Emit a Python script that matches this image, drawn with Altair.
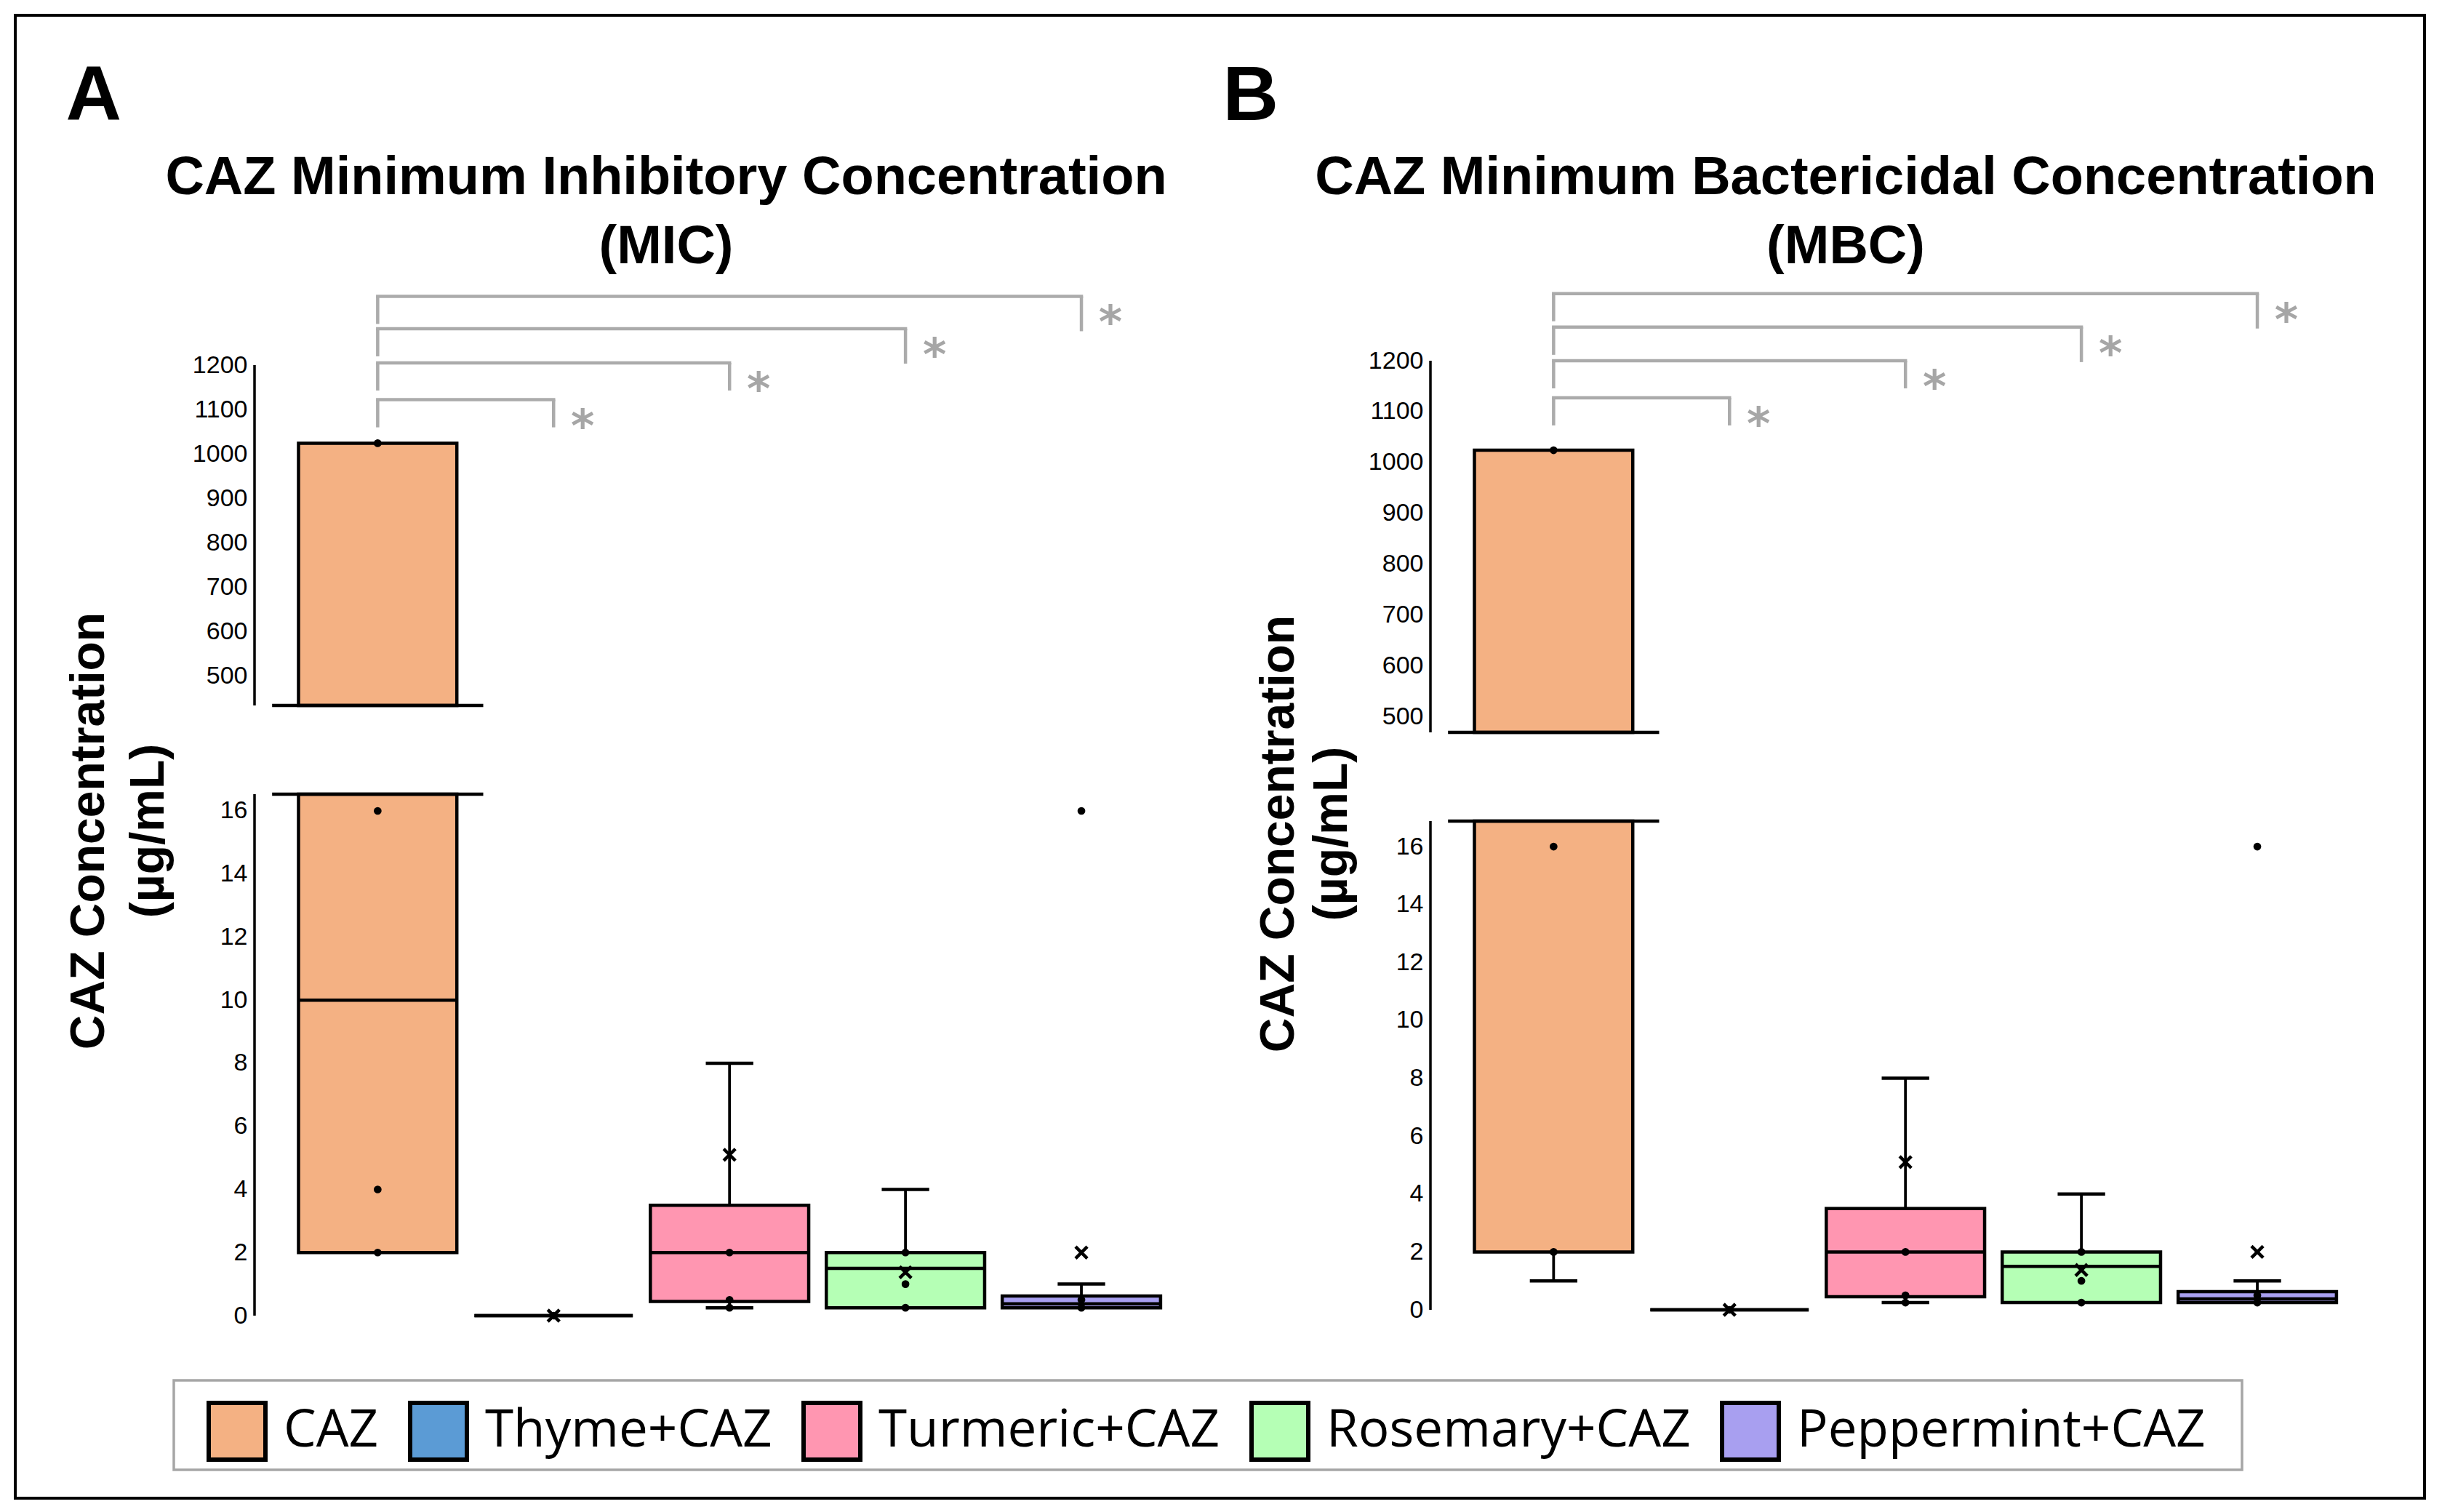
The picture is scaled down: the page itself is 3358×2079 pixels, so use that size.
import altair as alt
import pandas as pd

# ---------------- data ----------------
groups = ["CAZ", "Thyme+CAZ", "Turmeric+CAZ", "Rosemary+CAZ", "Peppermint+CAZ"]
colors = ["#F4B183", "#5B9BD5", "#FF96B1", "#B5FFB5", "#A89FF0"]

# Panel A - MIC (None = value lies inside the axis break, not drawn)
mic_low = [2, 0, 0.25, 0.25, 0.25]
mic_q1 = [2, 0, 0.45, 0.25, 0.25]
mic_median = [10, 0, 2, 1.5, 0.375]
mic_q3 = [1024, 0, 3.5, 2, 0.625]
mic_high = [1024, 0, 8, 4, 1]
mic_mean = [None, 0, 5.1, 1.375, 2]
mic_points = [[1024, 16, 4, 2], [0], [2, 0.5, 0.25], [2, 1, 0.25], [16, 0.5, 0.25]]

# Panel B - MBC
mbc_low = [1, 0, 0.25, 0.25, 0.25]
mbc_q1 = [2, 0, 0.45, 0.25, 0.25]
mbc_median = [None, 0, 2, 1.5, 0.375]
mbc_q3 = [1024, 0, 3.5, 2, 0.625]
mbc_high = [1024, 0, 8, 4, 1]
mbc_mean = [None, 0, 5.1, 1.375, 2]
mbc_points = [[1024, 16, 2], [0], [2, 0.5, 0.25], [2, 1, 0.25], [16, 0.5, 0.25]]

upper_ticks = [500, 600, 700, 800, 900, 1000, 1100, 1200]
lower_ticks = [0, 2, 4, 6, 8, 10, 12, 14, 16]

sig_reference = "CAZ"
sig_groups = ["Thyme+CAZ", "Turmeric+CAZ", "Rosemary+CAZ", "Peppermint+CAZ"]
sig_labels = ["*", "*", "*", "*"]

mic_title = ["CAZ Minimum Inhibitory Concentration", "(MIC)"]
mbc_title = ["CAZ Minimum Bactericidal Concentration", "(MBC)"]
y_title = ["CAZ Concentration", "(\u00b5g/mL)"]

# ---------------- layout / style ----------------
FONT = "Liberation Sans"
X_DOMAIN = [-0.70, 4.50]
PLOT_W = 1258
BOX_HALF = 0.45
CAP_HALF = 0.135
BREAK_HALF = 0.6
LW = 4.5
GRAY = "#ABABAB"
LEFT_DROP = 38
RIGHT_DROP = [38, 38, 48, 48]
TITLE_OFFSET = -373


def lin_domain(v1, p1, v2, p2, H):
    slope = (v1 - v2) / (p2 - p1)
    return [v1 - (H - p1) * slope, v1 + p1 * slope], slope


def clip(v, lo, hi):
    return min(max(v, lo), hi)


def tables(stats, points, lo, hi, upper):
    low, q1, med, q3, high, mean = stats
    T = {k: [] for k in ["box", "whisk", "cap", "med", "pt", "mean", "brk"]}
    for i, g in enumerate(groups):
        a, b = clip(q1[i], lo, hi), clip(q3[i], lo, hi)
        if b > a or (q1[i] == q3[i] and lo <= q1[i] <= hi):
            T["box"].append(dict(group=g, xa=i - BOX_HALF, xb=i + BOX_HALF, ya=a, yb=b))
        if upper and q1[i] < lo < q3[i]:
            T["brk"].append(dict(xa=i - BREAK_HALF, xb=i + BREAK_HALF, y=lo))
        if (not upper) and q1[i] < hi < q3[i]:
            T["brk"].append(dict(xa=i - BREAK_HALF, xb=i + BREAK_HALF, y=hi))
        for s, e in [(q3[i], high[i]), (low[i], q1[i])]:
            a, b = clip(s, lo, hi), clip(e, lo, hi)
            if b != a:
                T["whisk"].append(dict(i=i, ya=a, yb=b))
        if high[i] > q3[i] and lo <= high[i] <= hi:
            T["cap"].append(dict(xa=i - CAP_HALF, xb=i + CAP_HALF, y=high[i]))
        if low[i] < q1[i] and lo <= low[i] <= hi:
            T["cap"].append(dict(xa=i - CAP_HALF, xb=i + CAP_HALF, y=low[i]))
        if med[i] is not None and lo <= med[i] <= hi:
            T["med"].append(dict(xa=i - BOX_HALF, xb=i + BOX_HALF, y=med[i]))
        for p in points[i]:
            if lo <= p <= hi:
                T["pt"].append(dict(i=i, y=p))
        if mean[i] is not None and lo <= mean[i] <= hi:
            T["mean"].append(dict(i=i, y=mean[i]))
    return {k: pd.DataFrame(v) for k, v in T.items()}


legend = alt.Legend(
    title=None, orient="none", legendX=-66, legendY=1532, direction="horizontal",
    symbolType="square", symbolSize=6084, symbolStrokeColor="black", symbolStrokeWidth=6,
    symbolOpacity=1, labelFont="Open Sans", labelFontSize=71, labelColor="black",
    labelOffset=22, labelLimit=2000, columnPadding=31, padding=0, columns=5,
)
cscale = alt.Scale(domain=groups, range=colors)
XMARK = "M-1,-1L1,1M1,-1L-1,1"


def segment(stats, points, dom, lo, hi, upper, yaxis, xaxis, brackets=None):
    T = tables(stats, points, lo, hi, upper)
    xs = alt.Scale(domain=X_DOMAIN, nice=False, zero=False)
    ys = alt.Scale(domain=dom, nice=False, zero=False)

    def X(f):
        return alt.X(f"{f}:Q", scale=xs, axis=xaxis)

    def Y(f):
        return alt.Y(f"{f}:Q", scale=ys, axis=yaxis)

    L = []
    ax = pd.DataFrame([dict(x=X_DOMAIN[0], ya=lo if upper else dom[0], yb=upper_ticks[-1] if upper else hi)])
    L.append(alt.Chart(ax).mark_rule(color="black", strokeWidth=3.5).encode(x=X("x"), y=Y("ya"), y2=alt.Y2("yb:Q")))
    if len(T["whisk"]):
        L.append(alt.Chart(T["whisk"]).mark_rule(color="black", strokeWidth=3.8).encode(x=X("i"), y=Y("ya"), y2=alt.Y2("yb:Q")))
    if len(T["box"]):
        L.append(alt.Chart(T["box"]).mark_rect(stroke="black", strokeWidth=LW, opacity=1).encode(
            x=X("xa"), x2=alt.X2("xb:Q"), y=Y("ya"), y2=alt.Y2("yb:Q"),
            color=alt.Color("group:N", scale=cscale, legend=legend)))
    for key in ["med", "cap", "brk"]:
        if len(T[key]):
            L.append(alt.Chart(T[key]).mark_rule(color="black", strokeWidth=LW).encode(
                x=X("xa"), x2=alt.X2("xb:Q"), y=Y("y")))
    if len(T["pt"]):
        L.append(alt.Chart(T["pt"]).mark_circle(size=115, color="black", opacity=1).encode(x=X("i"), y=Y("y")))
    if len(T["mean"]):
        L.append(alt.Chart(T["mean"]).mark_point(shape=XMARK, size=260, stroke="black", strokeWidth=4.5,
                                                 filled=False, opacity=1).encode(x=X("i"), y=Y("y")))
    if brackets is not None:
        levels, slope = brackets
        i0 = groups.index(sig_reference)
        hz, legs, stars = [], [], []
        for k, (g, lab) in enumerate(zip(sig_groups, sig_labels)):
            j = groups.index(g)
            lv = levels[k]
            hz.append(dict(xa=i0, xb=j, y=lv))
            legs.append(dict(x=i0, ya=lv, yb=lv - LEFT_DROP * slope))
            legs.append(dict(x=j, ya=lv, yb=lv - RIGHT_DROP[k] * slope))
            stars.append(dict(x=j, y=lv, t=lab))
        L.append(alt.Chart(pd.DataFrame(hz)).mark_rule(color=GRAY, strokeWidth=LW, strokeCap="square").encode(
            x=X("xa"), x2=alt.X2("xb:Q"), y=Y("y")))
        L.append(alt.Chart(pd.DataFrame(legs)).mark_rule(color=GRAY, strokeWidth=LW).encode(
            x=X("x"), y=Y("ya"), y2=alt.Y2("yb:Q")))
        L.append(alt.Chart(pd.DataFrame(stars)).mark_text(font="DejaVu Sans", fontSize=62, fontWeight="bold",
                                                          color="#A6A6A6", dx=40, dy=57, baseline="alphabetic",
                                                          align="center").encode(
            x=X("x"), y=Y("y"), text="t:N"))
    return alt.layer(*L)


def panel(stats, points, H, up_ref, lo_ref, levels, title, title_dx, label, label_x, ytx, yty, ylh):
    up_dom, up_slope = lin_domain(*up_ref, H)
    lo_dom, _ = lin_domain(*lo_ref, H)
    xaxis = alt.Axis(title=label, labels=False, ticks=False, domain=False, grid=False,
                     titleFont=FONT, titleFontSize=106, titleFontWeight="bold", titleColor="black",
                     titleAngle=0, titleAlign="left", titleBaseline="alphabetic",
                     titleX=label_x, titleY=164 - (395 + H))
    common = dict(orient="left", domain=False, ticks=False, tickSize=0, grid=False, labelFont=FONT,
                  labelFontSize=34, labelColor="black", labelPadding=10, labelOverlap=False, format="d")
    up_axis = alt.Axis(values=upper_ticks, title="", **common)
    lo_axis = alt.Axis(values=lower_ticks, title=y_title, titleFont=FONT, titleFontSize=66,
                       titleFontWeight="bold", titleColor="black", titleAngle=270, titleAlign="center",
                       titleBaseline="alphabetic", titleX=ytx, titleY=yty, titleLineHeight=ylh, **common)
    upper = segment(stats, points, up_dom, up_ref[2], up_dom[1], True, up_axis, xaxis, (levels, up_slope))
    lower = segment(stats, points, lo_dom, lo_dom[0], lo_ref[2], False, lo_axis, xaxis)
    return alt.layer(upper, lower).resolve_scale(y="independent").properties(
        width=PLOT_W, height=H,
        title=alt.TitleParams(text=title, font=FONT, fontSize=74, fontWeight="bold", color="black",
                              anchor="middle", frame="group", dx=title_dx, offset=TITLE_OFFSET,
                              lineHeight=95, baseline="bottom"))


panelA = panel([mic_low, mic_q1, mic_median, mic_q3, mic_high, mic_mean], mic_points, 1414,
               (1200, 107, 433, 575), (0, 1414, 16.53, 697), [1122, 1205, 1282, 1355],
               mic_title, -63, "A", -260, -208, 747, 82)
panelB = panel([mbc_low, mbc_q1, mbc_median, mbc_q3, mbc_high, mbc_mean], mbc_points, 1406,
               (1200, 101, 469, 612), (0, 1406, 16.88, 734), [1127, 1200, 1266, 1332],
               mbc_title, -58, "B", -286, -189, 751, 73)

one = pd.DataFrame({"k": [0]})
outer = alt.Chart(one).mark_rect(fill="white", fillOpacity=0, stroke="black", strokeWidth=4).encode(
    x=alt.value(-329), x2=alt.value(2984), y=alt.value(-373), y2=alt.value(1666))
legbox = alt.Chart(one).mark_rect(fill="white", fillOpacity=0, stroke="#A6A6A6", strokeWidth=3.5).encode(
    x=alt.value(-111), x2=alt.value(2733), y=alt.value(1504), y2=alt.value(1627))
frame_cell = alt.layer(outer, legbox).properties(width=1, height=1)

panels = alt.hconcat(panelA, panelB, spacing=359, bounds="flush").resolve_scale(
    color="shared", x="independent", y="independent").resolve_legend(color="shared")

chart = alt.vconcat(frame_cell, panels, spacing=0, bounds="flush").properties(
    padding={"left": 11, "top": 11, "right": 0, "bottom": 0}, background="white"
).configure_view(strokeWidth=0)

chart.save("out.html", embed_options={"renderer": "svg", "actions": False})
